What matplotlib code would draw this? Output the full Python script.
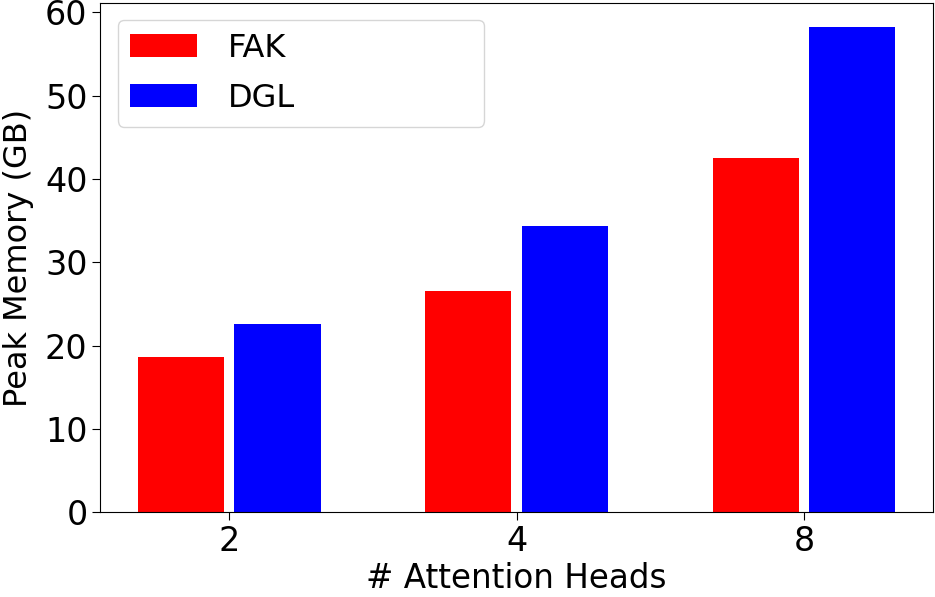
import matplotlib
matplotlib.use("Agg")
import matplotlib.pyplot as plt
import numpy as np

heads = ["2", "4", "8"]
fak_mem = [18.6, 26.6, 42.5]
dgl_mem = [22.6, 34.4, 58.2]

x = np.arange(len(heads))
width = 0.3
offset = 0.168

fig = plt.figure(figsize=(9.35, 5.97), dpi=100)
ax = fig.add_axes([0.107, 0.142, 0.891, 0.853])

ax.bar(x - offset, fak_mem, width, color="red", label="FAK")
ax.bar(x + offset, dgl_mem, width, color="blue", label="DGL")

ax.set_xticks(x)
ax.set_xticklabels(heads)
ax.tick_params(labelsize=24, length=5.5)
ax.set_xlabel("# Attention Heads", fontsize=23.5, labelpad=3)
ax.set_ylabel("Peak Memory (GB)", fontsize=23, labelpad=8)

ax.legend(loc="upper left", bbox_to_anchor=(0.021, 0.967, 0.44, 0), mode="expand",
          fontsize=23, handlelength=2.1, handletextpad=0.95, labelspacing=0.6,
          borderaxespad=0)

fig.savefig("out.png", dpi=100)
